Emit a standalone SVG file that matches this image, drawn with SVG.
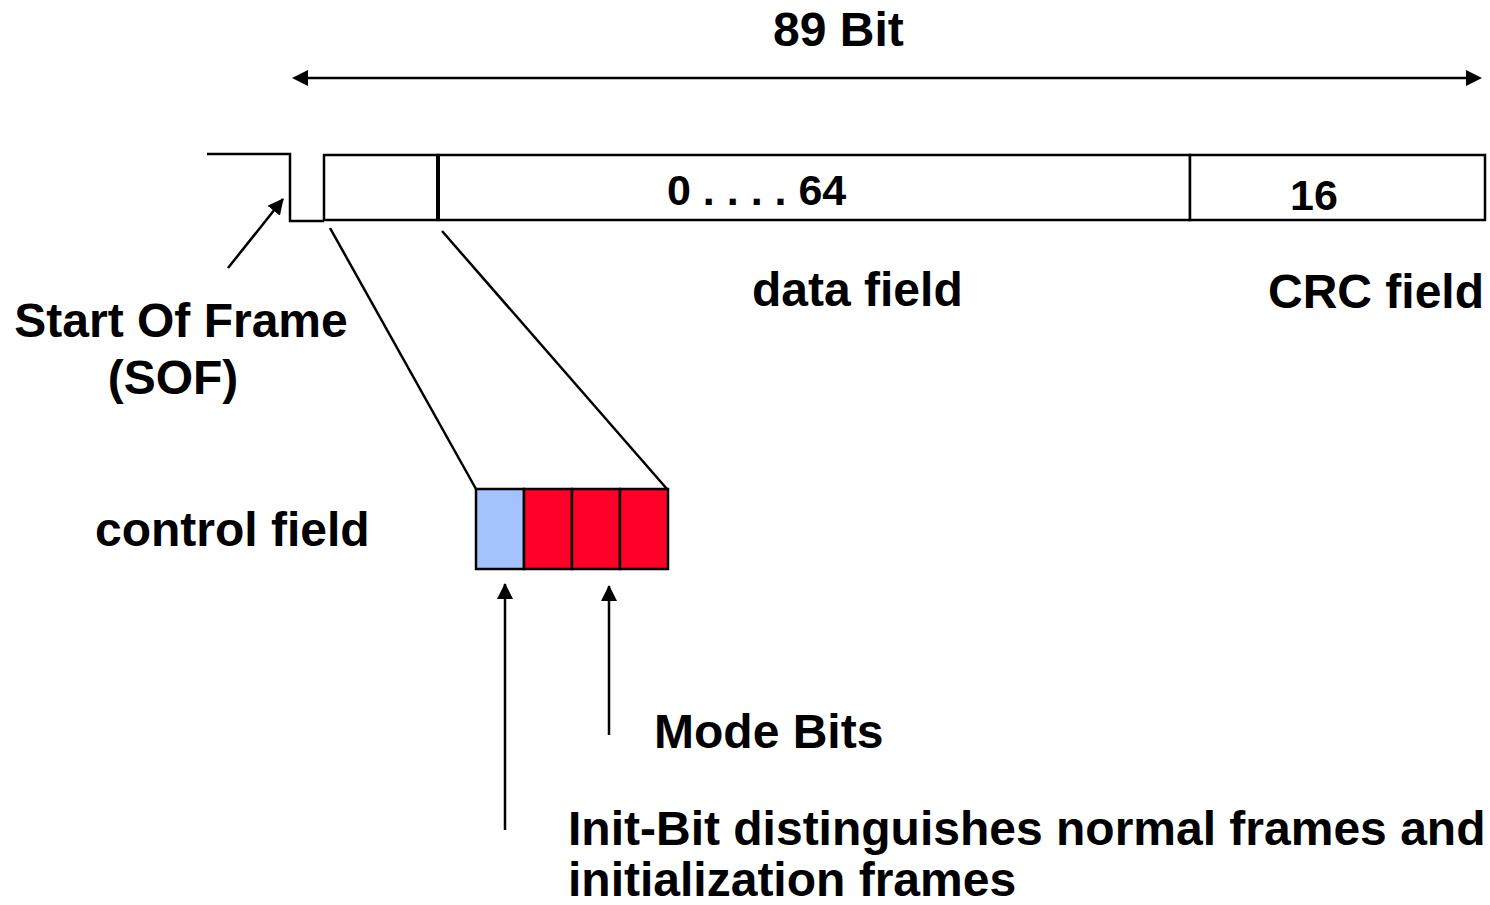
<svg xmlns="http://www.w3.org/2000/svg" width="1490" height="905" viewBox="0 0 1490 905">
<style>
text{font-family:"Liberation Sans",Arial,sans-serif;font-weight:bold;fill:#000}
.lbl{font-size:48px}
.num{font-size:43px}
.ln{stroke:#000;stroke-width:2.5;fill:none}
.box{stroke:#000;stroke-width:2.5;fill:#fff}
</style>
<defs>
<marker id="ah" viewBox="0 0 16 16" refX="15" refY="8" markerWidth="16" markerHeight="16" markerUnits="userSpaceOnUse" orient="auto-start-reverse">
<path d="M0,0 L16,8 L0,16 z" fill="#000"/>
</marker>
</defs>
<rect width="1490" height="905" fill="#fff"/>
<g id="connectors">
<line class="ln" x1="307" y1="78" x2="1466" y2="78"/>
<path d="M292,78 L308,70 L308,86 z" fill="#000"/>
<path d="M1482,78 L1466,70 L1466,86 z" fill="#000"/>
<path class="ln" d="M207,154 L290,154 L290,221 L324,221"/>
<line class="ln" x1="228" y1="268" x2="283" y2="199" marker-end="url(#ah)"/>
<line class="ln" x1="330" y1="228" x2="476" y2="489"/>
<line class="ln" x1="442" y1="231" x2="667" y2="489"/>
<line class="ln" x1="505" y1="830" x2="505" y2="584" marker-end="url(#ah)"/>
<line class="ln" x1="609" y1="735" x2="609" y2="586" marker-end="url(#ah)"/>
</g>
<g id="length">
<text class="lbl" x="773" y="46">89 Bit</text>
</g>
<g id="control-box">
<rect class="box" x="324" y="155" width="114" height="65"/>
</g>
<g id="data-box">
<rect class="box" x="438" y="155" width="752" height="65"/>
<line x1="438" y1="155" x2="438" y2="220" stroke="#000" stroke-width="4"/>
<text class="num" x="667" y="205">0 . . . . 64</text>
</g>
<g id="crc-box">
<rect class="box" x="1190" y="155" width="295" height="65"/>
<text class="num" x="1290" y="210">16</text>
</g>
<g id="data-label"><text class="lbl" x="752" y="306">data field</text></g>
<g id="crc-label"><text class="lbl" x="1268" y="308">CRC field</text></g>
<g id="sof-label">
<text class="lbl" x="181" y="337" text-anchor="middle">Start Of Frame</text>
<text class="lbl" x="173" y="394" text-anchor="middle">(SOF)</text>
</g>
<g id="control-label"><text class="lbl" x="95" y="546">control field</text></g>
<g id="control-bits">
<rect x="476" y="489" width="48" height="80" fill="#a4c2fe" stroke="#000" stroke-width="2.5"/>
<rect x="524" y="489" width="48" height="80" fill="#ff0028" stroke="#000" stroke-width="2.5"/>
<rect x="572" y="489" width="48" height="80" fill="#ff0028" stroke="#000" stroke-width="2.5"/>
<rect x="620" y="489" width="48" height="80" fill="#ff0028" stroke="#000" stroke-width="2.5"/>
</g>
<g id="mode-label"><text class="lbl" x="654" y="748">Mode Bits</text></g>
<g id="init-label">
<text class="lbl" x="568" y="845">Init-Bit distinguishes normal frames and</text>
<text class="lbl" x="568" y="896">initialization frames</text>
</g>
</svg>
